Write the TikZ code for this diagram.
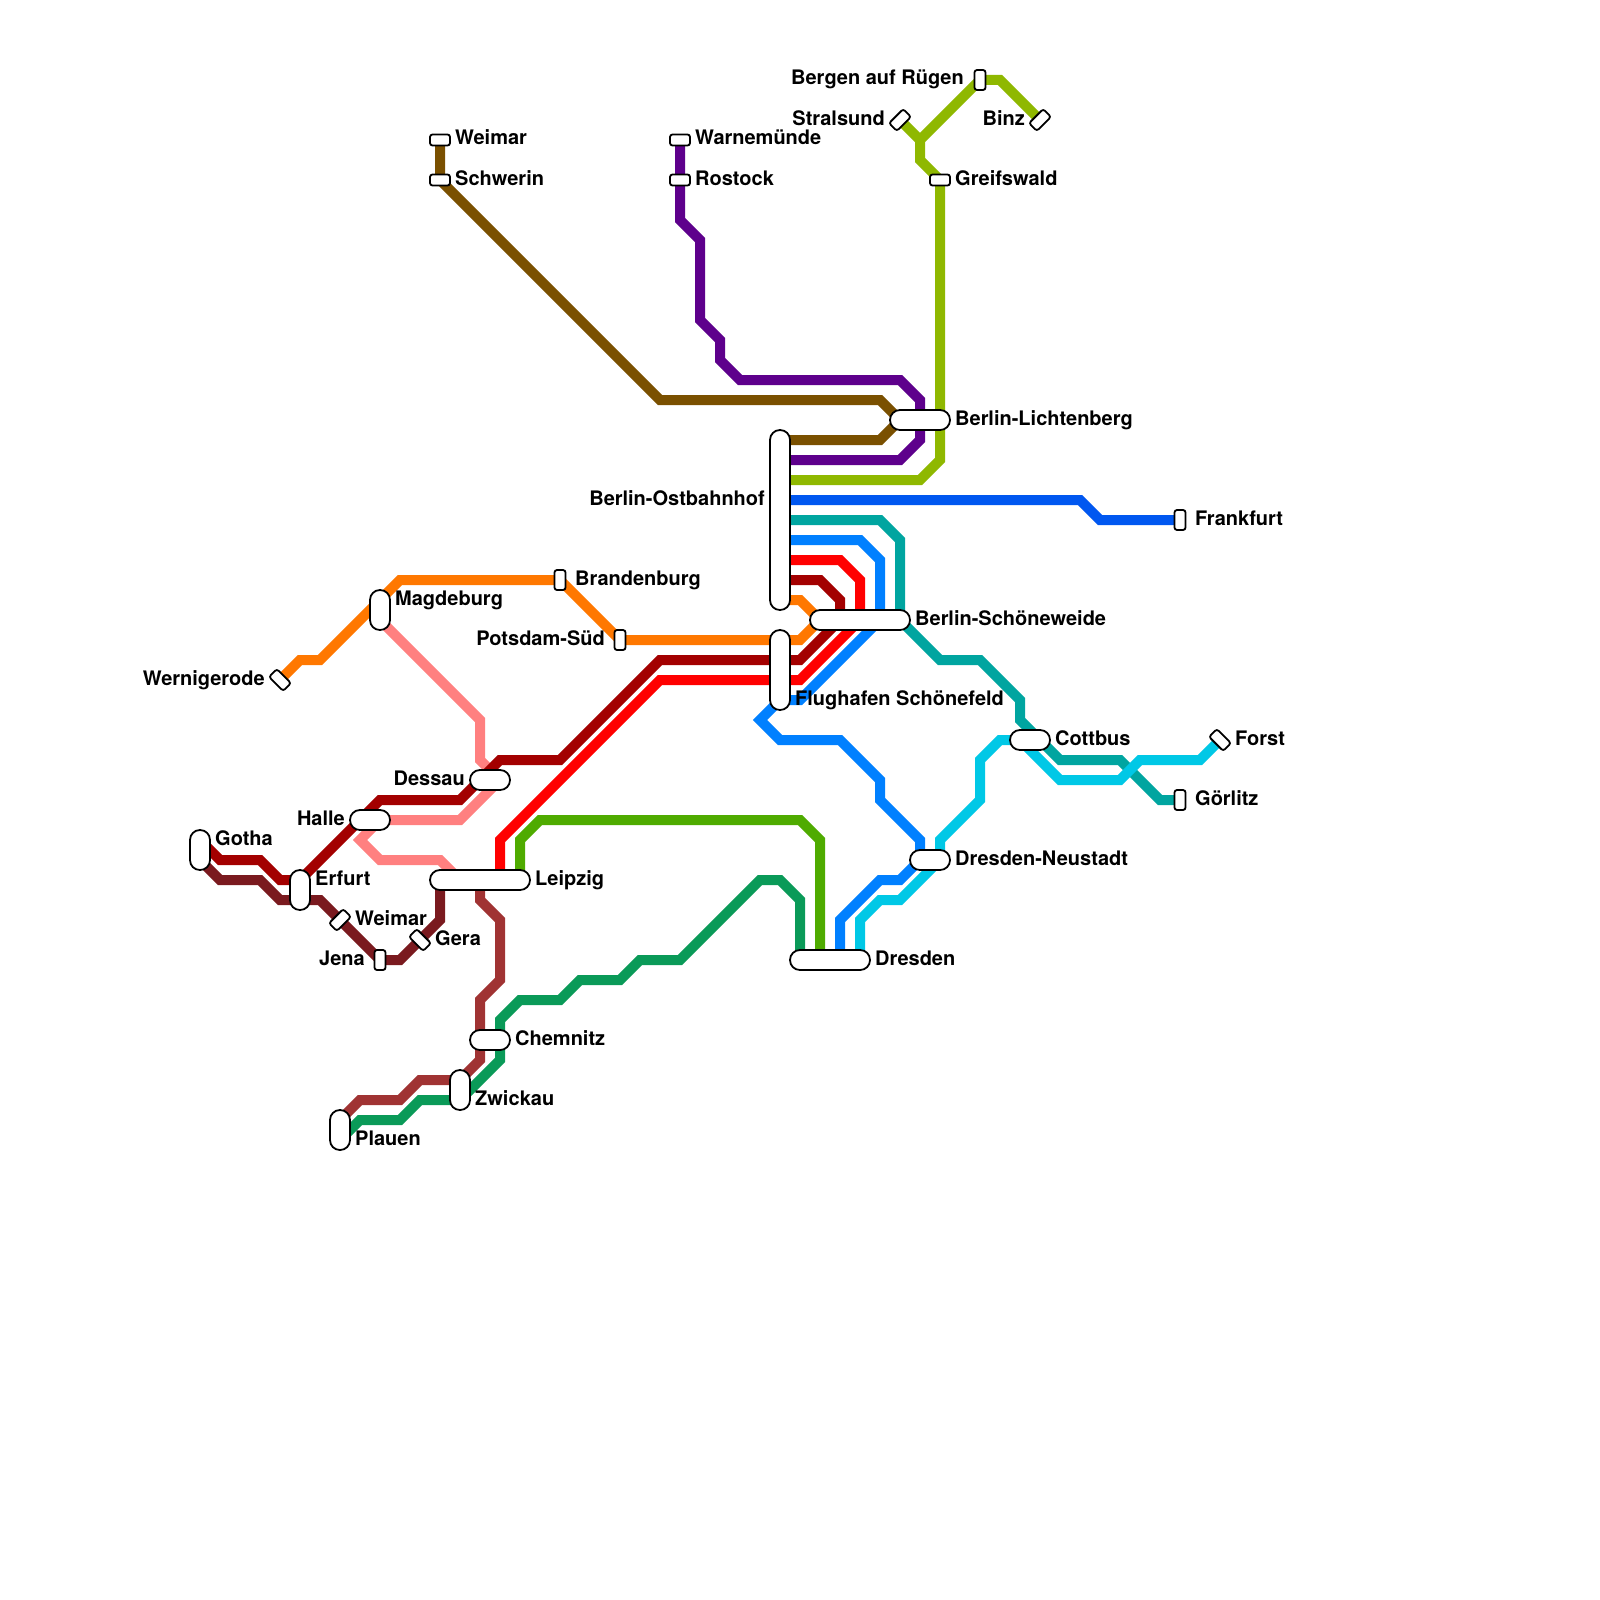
\documentclass[tikz,border=0pt]{standalone}
\usepackage{fontspec}
\setmainfont{TeX Gyre Heros}
\pgfdeclarelayer{bg}
\pgfdeclarelayer{lines}
\pgfsetlayers{bg,lines,main}
\definecolor{cBrown}{HTML}{7A5000}
\definecolor{cPurple}{HTML}{5E008C}
\definecolor{cOlive}{HTML}{8FB800}
\definecolor{cBlueA}{HTML}{0057F0}
\definecolor{cTeal}{HTML}{00A5A0}
\definecolor{cBlueB}{HTML}{0080FF}
\definecolor{cRed}{HTML}{FF0000}
\definecolor{cDarkRed}{HTML}{A30000}
\definecolor{cOrange}{HTML}{FF7800}
\definecolor{cPink}{HTML}{FF8080}
\definecolor{cMaroon}{HTML}{7A1A1F}
\definecolor{cLime}{HTML}{4FAB00}
\definecolor{cGreen}{HTML}{0A9A58}
\definecolor{cRust}{HTML}{A03333}
\definecolor{cCyan}{HTML}{00C8E6}
\tikzset{
  x=1pt,y=-1pt,
  metro/.style={line width=10pt,line join=miter,miter limit=10},
  stn/.style={draw=black,fill=white,line width=1.8pt,inner sep=0pt,outer sep=0pt},
  pill/.style={stn,rounded corners=9.9pt},
  hpill/.style={pill,minimum height=20pt,minimum width=#1},
  vpill/.style={pill,minimum width=20pt,minimum height=#1},
  tick/.style={stn,rounded corners=2.5pt,minimum width=20pt,minimum height=11pt},
  lab/.style={font=\bfseries\fontsize{20}{22}\selectfont,inner sep=0pt,text=black},
  lw/.style={lab,anchor=base west},
  le/.style={lab,anchor=base east},
}
\begin{document}
\begin{tikzpicture}
\begin{pgfonlayer}{bg}
\fill[white] (0,0) rectangle (1600,1600);
\end{pgfonlayer}
\useasboundingbox (0,0) rectangle (1600,1600);
% small stations
\node[tick] (weimarN) at (440,140) {};
\node[tick] (schwerin) at (440,180) {};
\node[tick] (warnemuende) at (680,140) {};
\node[tick] (rostock) at (680,180) {};
\node[tick,rotate=90] (bergen) at (980,80) {};
\node[tick,rotate=45] (stralsund) at (900,120) {};
\node[tick,rotate=45] (binz) at (1040,120) {};
\node[tick] (greifswald) at (940,180) {};
\node[tick,rotate=90] (frankfurt) at (1180,520) {};
\node[tick,rotate=90] (brandenburg) at (560,580) {};
\node[tick,rotate=90] (potsdam) at (620,640) {};
\node[tick,rotate=-45] (wernigerode) at (280,680) {};
\node[tick,rotate=-45] (forst) at (1220,740) {};
\node[tick,rotate=90] (goerlitz) at (1180,800) {};
\node[tick,rotate=45] (weimarS) at (340,920) {};
\node[tick,rotate=90] (jena) at (380,960) {};
\node[tick,rotate=-45] (gera) at (420,940) {};
% pills
\node[hpill=60pt] (lichtenberg) at (920,420) {};
\node[vpill=180pt] (ostbahnhof) at (780,520) {};
\node[vpill=80pt] (flughafen) at (780,670) {};
\node[hpill=100pt] (schoeneweide) at (860,620) {};
\node[vpill=40pt] (magdeburg) at (380,610) {};
\node[hpill=40pt] (cottbus) at (1030,740) {};
\node[hpill=40pt] (dessau) at (490,780) {};
\node[hpill=40pt] (halle) at (370,820) {};
\node[vpill=40pt] (gotha) at (200,850) {};
\node[vpill=40pt] (erfurt) at (300,890) {};
\node[hpill=100pt] (leipzig) at (480,880) {};
\node[hpill=40pt] (neustadt) at (930,860) {};
\node[hpill=80pt] (dresden) at (830,960) {};
\node[hpill=40pt] (chemnitz) at (490,1040) {};
\node[vpill=40pt] (zwickau) at (460,1090) {};
\node[vpill=40pt] (plauen) at (340,1130) {};
% stops on the long stations
\coordinate (osA) at (780,440); \coordinate (osB) at (780,460); \coordinate (osC) at (780,480);
\coordinate (osD) at (780,500); \coordinate (osE) at (780,520); \coordinate (osF) at (780,540);
\coordinate (osG) at (780,560); \coordinate (osH) at (780,580); \coordinate (osI) at (780,600);
\coordinate (gothaA) at (200,840); \coordinate (gothaB) at (200,860);
\coordinate (leipA) at (440,880); \coordinate (leipB) at (460,880); \coordinate (leipC) at (480,880);
\coordinate (leipD) at (500,880); \coordinate (leipE) at (520,880);
\coordinate (drA) at (800,960); \coordinate (drB) at (820,960); \coordinate (drC) at (840,960); \coordinate (drD) at (860,960);
\coordinate (plA) at (340,1120); \coordinate (plB) at (340,1140);
\coordinate (magB) at (380,620);
% labels
\node[lw] (l1) at (455,145) {Weimar};
\node[lw] (l2) at (455,185) {Schwerin};
\node[lw] (l3) at (695,145) {Warnemünde};
\node[lw] (l4) at (695,185) {Rostock};
\node[le] (l5) at (964,85) {Bergen auf Rügen};
\node[le] (l6) at (885,125) {Stralsund};
\node[le] (l7) at (1025,125) {Binz};
\node[lw] (l8) at (955,185) {Greifswald};
\node[lw] (l9) at (955,425) {Berlin-Lichtenberg};
\node[le] (l10) at (765,505) {Berlin-Ostbahnhof};
\node[lw] (l11) at (1195,525) {Frankfurt};
\node[lw] (l12) at (575,585) {Brandenburg};
\node[le] (l13) at (605,645) {Potsdam-Süd};
\node[lw] (l14) at (395,605) {Magdeburg};
\node[le] (l15) at (265,685) {Wernigerode};
\node[lw] (l16) at (915,625) {Berlin-Schöneweide};
\node[lw] (l17) at (795,705) {Flughafen Schönefeld};
\node[lw] (l18) at (1055,745) {Cottbus};
\node[lw] (l19) at (1235,745) {Forst};
\node[lw] (l20) at (1195,805) {Görlitz};
\node[le] (l21) at (465,785) {Dessau};
\node[le] (l22) at (345,825) {Halle};
\node[lw] (l23) at (215,845) {Gotha};
\node[lw] (l24) at (315,885) {Erfurt};
\node[lw] (l25) at (355,925) {Weimar};
\node[le] (l26) at (365,965) {Jena};
\node[lw] (l27) at (435,945) {Gera};
\node[lw] (l28) at (535,885) {Leipzig};
\node[lw] (l29) at (955,865) {Dresden-Neustadt};
\node[lw] (l30) at (875,965) {Dresden};
\node[lw] (l31) at (515,1045) {Chemnitz};
\node[lw] (l32) at (475,1105) {Zwickau};
\node[lw] (l33) at (355,1145) {Plauen};
% lines
\begin{pgfonlayer}{lines}
\draw[metro,cBrown] (weimarN.center) -- (schwerin.center) -- (660,400) -- (880,400) -- (900,420) -- (880,440) -- (osA);
\draw[metro,cPurple] (warnemuende.center) -- (680,220) -- (700,240) -- (700,320) -- (720,340) -- (720,360) -- (740,380) -- (900,380) -- (920,400) -- (920,440) -- (900,460) -- (osB);
\draw[metro,cOlive] (binz.center) -- (1000,80) -- (bergen.center) -- (920,140) -- (920,160) -- (greifswald.center) -- (940,460) -- (920,480) -- (osC);
\draw[metro,cOlive] (stralsund.center) -- (920,140);
\draw[metro,cBlueA] (osD) -- (1080,500) -- (1100,520) -- (frankfurt.center);
\draw[metro,cTeal] (osE) -- (880,520) -- (900,540) -- (900,620) -- (940,660) -- (980,660) -- (1020,700) -- (1020,720) -- (1060,760) -- (1120,760) -- (1160,800) -- (goerlitz.center);
\draw[metro,cPink] (magB) -- (480,720) -- (480,760) -- (500,780) -- (460,820) -- (380,820) -- (360,840) -- (380,860) -- (440,860) -- (leipB);
\draw[metro,cOrange] (wernigerode.center) -- (300,660) -- (320,660) -- (400,580) -- (brandenburg.center) -- (potsdam.center) -- (800,640) -- (820,620) -- (800,600) -- (osI);
\draw[metro,cMaroon] (gothaB) -- (220,880) -- (260,880) -- (280,900) -- (320,900) -- (jena.center) -- (400,960) -- (440,920) -- (leipA);
\draw[metro,cDarkRed] (osH) -- (820,580) -- (840,600) -- (840,620) -- (800,660) -- (660,660) -- (560,760) -- (500,760) -- (460,800) -- (380,800) -- (300,880) -- (280,880) -- (260,860) -- (220,860) -- (gothaA);
\draw[metro,cRed] (osG) -- (840,560) -- (860,580) -- (860,620) -- (800,680) -- (660,680) -- (500,840) -- (leipD);
\draw[metro,cBlueB] (osF) -- (860,540) -- (880,560) -- (880,620) -- (800,700) -- (780,700) -- (760,720) -- (780,740) -- (840,740) -- (880,780) -- (880,800) -- (920,840) -- (920,860) -- (900,880) -- (880,880) -- (840,920) -- (drC);
\draw[metro,cLime] (leipE) -- (520,840) -- (540,820) -- (800,820) -- (820,840) -- (drB);
\draw[metro,cRust] (leipC) -- (480,900) -- (500,920) -- (500,980) -- (480,1000) -- (480,1060) -- (460,1080) -- (420,1080) -- (400,1100) -- (360,1100) -- (plA);
\draw[metro,cGreen] (drA) -- (800,900) -- (780,880) -- (760,880) -- (680,960) -- (640,960) -- (620,980) -- (580,980) -- (560,1000) -- (520,1000) -- (500,1020) -- (500,1060) -- (460,1100) -- (420,1100) -- (400,1120) -- (360,1120) -- (plB);
\draw[metro,cCyan] (forst.center) -- (1200,760) -- (1140,760) -- (1120,780) -- (1060,780) -- (1020,740) -- (1000,740) -- (980,760) -- (980,800) -- (940,840) -- (940,860) -- (900,900) -- (880,900) -- (860,920) -- (drD);
\end{pgfonlayer}
\end{tikzpicture}
\end{document}
